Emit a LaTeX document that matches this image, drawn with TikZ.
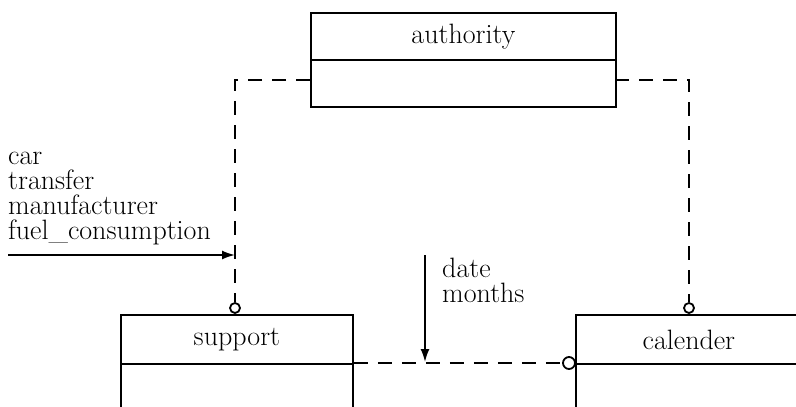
\documentclass[tikz,border=0pt]{standalone}
\usetikzlibrary{arrows.meta}
\begin{document}
\begin{tikzpicture}[x=1pt,y=-1pt,
  every node/.style={font=\fontsize{28}{25}\selectfont, inner sep=0pt},
  boxpart/.style={draw, line width=1.8pt, anchor=north west},
  dashline/.style={line width=1.8pt, dash pattern=on 14pt off 10pt},
  flowline/.style={line width=1.8pt, -{Latex[length=13pt,width=9pt]}},
  conn/.style={draw, circle, line width=1.8pt, minimum size=10pt, fill=white},
  lbl/.style={anchor=north west, align=left}]
\useasboundingbox (0,0) rectangle (796,407);
\clip (0,0) rectangle (796,407);
% authority
\node[boxpart, minimum width=305pt, minimum height=47pt] (authT) at (310,12) {authority};
\node[boxpart, minimum width=305pt, minimum height=47pt] (authB) at (310,59) {};
% support
\node[boxpart, minimum width=232pt, minimum height=49pt] (supT) at (120,314) {support};
\node[boxpart, minimum width=232pt, minimum height=70pt] (supB) at (120,363) {};
% calender
\node[boxpart, minimum width=240pt, minimum height=49pt] (calT) at (575,314) {\hspace*{-14pt}calender};
\node[boxpart, minimum width=240pt, minimum height=70pt] (calB) at (575,363) {};
% connectors
\node[conn] (c1) at (235,308) {};
\node[conn] (c2) at (689,308) {};
\node[conn, minimum size=12pt] (c3) at (569,363) {};
\coordinate (aL) at (310,80);
\coordinate (aR) at (615,80);
\draw[dashline] (aL) -- (235,80) -- (c1.north);
\draw[dashline] (aR) -- (689,80) -- (c2.north);
\draw[dashline] (supB.north east) -- (c3.west);
% date arrow
\coordinate (dtop) at (425,255);
\coordinate (dbot) at (425,362);
\draw[flowline] (dtop) -- (dbot);
\node[lbl] (dl) at (442,258) {date\\months};
% input arrow
\coordinate (inS) at (8,255);
\coordinate (inE) at (235,255);
\draw[flowline] (inS) -- (inE);
\node[lbl] (tl) at (8,152) {car\\transfer\\manufacturer\\fuel\_consumption};
\end{tikzpicture}
\end{document}
